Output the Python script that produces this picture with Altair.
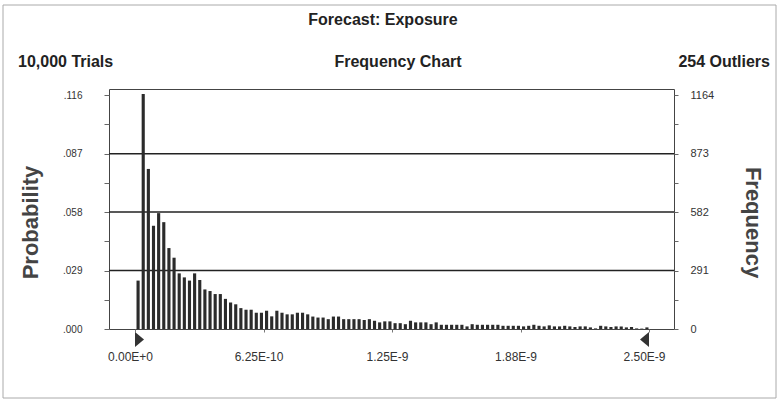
import json

import altair as alt
import pandas as pd

# Simulation summary
trials = 10000
outliers = 254
bin_width = 2.5e-11

# Frequency of each of the 100 histogram bins, starting at 0
frequency = [
    241, 1170, 797, 514, 577, 532, 403, 355, 277, 257,
    241, 277, 244, 197, 189, 174, 174, 150, 132, 123,
    104, 96, 96, 81, 81, 91, 63, 91, 81, 73,
    73, 81, 81, 73, 62, 57, 57, 49, 62, 62,
    49, 49, 49, 49, 45, 49, 41, 33, 38, 38,
    29, 29, 24, 41, 33, 33, 33, 24, 33, 21,
    21, 21, 21, 21, 13, 24, 21, 21, 21, 21,
    21, 16, 16, 16, 16, 13, 16, 21, 16, 13,
    18, 13, 13, 16, 13, 10, 13, 13, 8, 3,
    16, 13, 10, 13, 13, 8, 10, 3, 2, 8,
]

x_tick_values = [0, 6.25e-10, 1.25e-9, 1.875e-9, 2.5e-9]
x_tick_labels = ["0.00E+0", "6.25E-10", "1.25E-9", "1.88E-9", "2.50E-9"]
y_tick_values = [0, 145.5, 291, 436.5, 582, 727.5, 873, 1018.5, 1164]
grid_values = [291, 582, 873]
certainty_range = [0.0, 2.5e-9]

FONT = "Liberation Sans"
W, H = 565, 240

bins = pd.DataFrame({
    "lo": [i * bin_width for i in range(len(frequency))],
    "hi": [(i + 1) * bin_width for i in range(len(frequency))],
    "count": frequency,
})

x_scale = alt.Scale(domain=[-1.265e-10, 2.6216e-9], nice=False, zero=False)
y_scale = alt.Scale(domain=[0, 1195], nice=False)

x_label_expr = f"{json.dumps(x_tick_labels)}[round(datum.value / {x_tick_values[1]})]"
prob_label_expr = (
    "datum.value % 291 == 0 ? "
    f"replace(format(datum.value / {trials}, '.3f'), '0.', '.') : ''"
)
freq_label_expr = "datum.value % 291 == 0 ? format(datum.value, 'd') : ''"

grid = alt.Chart(pd.DataFrame({"f": grid_values})).mark_rule(
    color="#222", strokeWidth=1.5
).encode(
    y=alt.Y(
        "f:Q",
        scale=y_scale,
        axis=alt.Axis(
            orient="right", values=y_tick_values, labelExpr=freq_label_expr,
            grid=False, domain=False, tickSize=4, tickColor="#666",
            labelPadding=12, labelFontSize=11, labelColor="#333",
            title="Frequency", titleAngle=90, titleX=78, titleY=133,
            titleAlign="center", titleBaseline="middle",
            titleFontSize=22, titleFontWeight="bold", titleColor="#444",
        ),
    )
)

bars = alt.Chart(bins).mark_bar(color="#2b2b2b", binSpacing=2).encode(
    x=alt.X(
        "lo:Q", bin="binned", scale=x_scale,
        axis=alt.Axis(
            values=x_tick_values, labelExpr=x_label_expr, title=None,
            grid=False, domain=False, tickSize=3, tickColor="#777",
            labelPadding=19, labelFontSize=12, labelColor="#333",
            labelOffset=-5, labelFlush=False,
        ),
    ),
    x2="hi",
    y=alt.Y(
        "count:Q", scale=y_scale,
        axis=alt.Axis(
            orient="left", values=y_tick_values, labelExpr=prob_label_expr,
            grid=False, domain=False, tickSize=5, tickColor="#666",
            labelPadding=22, labelFontSize=10, labelColor="#333",
            title="Probability", titleAngle=270, titleX=-79, titleY=133,
            titleAlign="center", titleBaseline="middle",
            titleFontSize=22, titleFontWeight="bold", titleColor="#444",
        ),
    ),
)

# Certainty range markers below the axis
right_tri = "M0,-1L1.2,0L0,1Z"
left_tri = "M0,-1L-1.2,0L0,1Z"
markers = alt.Chart(
    pd.DataFrame({"v": certainty_range, "side": ["start", "end"]})
).mark_point(filled=True, size=225, color="#333", opacity=1).encode(
    x=alt.X("v:Q", scale=x_scale),
    y=alt.value(H + 10.5),
    shape=alt.Shape(
        "side:N",
        scale=alt.Scale(domain=["start", "end"], range=[right_tri, left_tri]),
        legend=None,
    ),
)

one = pd.DataFrame({"k": [0]})


def label(text, x, y, align, size=16):
    return alt.Chart(one).mark_text(
        font=FONT, fontSize=size, fontWeight="bold", color="#222",
        align=align, baseline="middle",
    ).encode(x=alt.value(x), y=alt.value(y), text=alt.value(text))


title = label("Forecast: Exposure", 274, -69, "center")
left_note = label(f"{trials:,} Trials", -91, -27, "left")
mid_note = label("Frequency Chart", 289, -27, "center")
right_note = label(f"{outliers} Outliers", 661, -27, "right")

frame = alt.Chart(one).mark_rect(
    fillOpacity=0, stroke="#aaa", strokeWidth=1
).encode(
    x=alt.value(-106), x2=alt.value(667), y=alt.value(-84), y2=alt.value(309)
)

chart = (
    alt.layer(grid, bars, markers, title, left_note, mid_note, right_note, frame)
    .resolve_scale(y="independent")
    .properties(
        width=W, height=H,
        autosize=alt.AutoSizeParams(type="none"),
        padding={"left": 109, "top": 89, "right": 104, "bottom": 73},
        background="white",
    )
    .configure_view(stroke="#444", strokeWidth=1)
    .configure_axis(labelFont=FONT, titleFont=FONT)
)

chart.save("out.html", embed_options={"renderer": "svg", "actions": False})
